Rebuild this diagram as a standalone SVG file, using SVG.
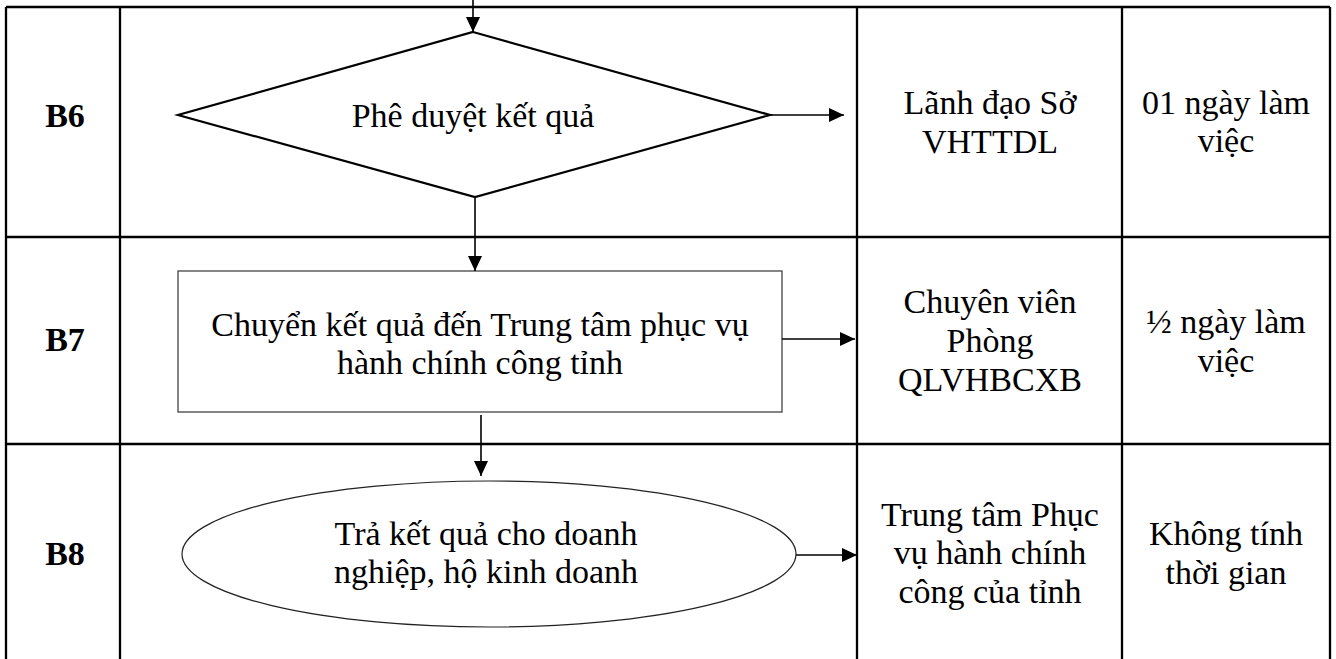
<svg xmlns="http://www.w3.org/2000/svg" width="1336" height="659" viewBox="0 0 1336 659">
<style>
  .t { font-family: "Liberation Serif", "Times New Roman", serif; font-size: 34px; fill: #000; text-anchor: middle; }
  .b { font-weight: bold; }
  .grid { stroke: #000; stroke-width: 2.3; fill: none; }
  .conn { stroke: #000; stroke-width: 1.6; fill: none; marker-end: url(#arr); }
</style>
<defs>
  <marker id="arr" viewBox="0 0 15 14" refX="15" refY="7" markerWidth="15" markerHeight="14" markerUnits="userSpaceOnUse" orient="auto">
    <path d="M0,0 L15,7 L0,14 z" fill="#000"/>
  </marker>
</defs>
<rect width="1336" height="659" fill="#fff"/>
<g id="table" class="grid">
  <line x1="6" y1="7" x2="1330" y2="7"/>
  <line x1="6" y1="237" x2="1330" y2="237"/>
  <line x1="6" y1="444" x2="1330" y2="444"/>
  <line x1="6" y1="7" x2="6" y2="659"/>
  <line x1="120" y1="7" x2="120" y2="659"/>
  <line x1="857" y1="7" x2="857" y2="659"/>
  <line x1="1122" y1="7" x2="1122" y2="659"/>
  <line x1="1330" y1="7" x2="1330" y2="659"/>
</g>
<g id="labels">
  <text class="t b" x="65" y="127">B6</text>
  <text class="t b" x="65" y="351">B7</text>
  <text class="t b" x="65" y="565">B8</text>
  <text class="t" x="990" y="114">Lãnh đạo Sở</text>
  <text class="t" x="990" y="153">VHTTDL</text>
  <text class="t" x="1226" y="114">01 ngày làm</text>
  <text class="t" x="1226" y="152">việc</text>
  <text class="t" x="990" y="313">Chuyên viên</text>
  <text class="t" x="990" y="352">Phòng</text>
  <text class="t" x="990" y="391">QLVHBCXB</text>
  <text class="t" x="1226" y="333">½ ngày làm</text>
  <text class="t" x="1226" y="372">việc</text>
  <text class="t" x="990" y="526">Trung tâm Phục</text>
  <text class="t" x="990" y="564">vụ hành chính</text>
  <text class="t" x="990" y="603">công của tỉnh</text>
  <text class="t" x="1226" y="545">Không tính</text>
  <text class="t" x="1226" y="584">thời gian</text>
</g>
<g id="node-b6">
  <polygon points="473,32 770,115 475,197 178,115" fill="#fff" stroke="#000" stroke-width="2.2"/>
  <text class="t" x="473" y="127">Phê duyệt kết quả</text>
</g>
<g id="node-b7">
  <rect x="178" y="271" width="604" height="141" fill="#fff" stroke="#444" stroke-width="1.3"/>
  <text class="t" x="480" y="336">Chuyển kết quả đến Trung tâm phục vụ</text>
  <text class="t" x="480" y="374">hành chính công tỉnh</text>
</g>
<g id="node-b8">
  <ellipse cx="489" cy="554" rx="307" ry="73" fill="#fff" stroke="#222" stroke-width="1.2"/>
  <text class="t" x="486" y="545">Trả kết quả cho doanh</text>
  <text class="t" x="486" y="583">nghiệp, hộ kinh doanh</text>
</g>
<g id="connectors">
  <line class="conn" x1="473" y1="0" x2="473" y2="32"/>
  <line class="conn" x1="770" y1="115" x2="844" y2="115"/>
  <line class="conn" x1="475" y1="197" x2="475" y2="271"/>
  <line class="conn" x1="782" y1="339" x2="855" y2="339"/>
  <line class="conn" x1="481" y1="415" x2="481" y2="476"/>
  <line class="conn" x1="796" y1="555" x2="857" y2="555"/>
</g>
</svg>
